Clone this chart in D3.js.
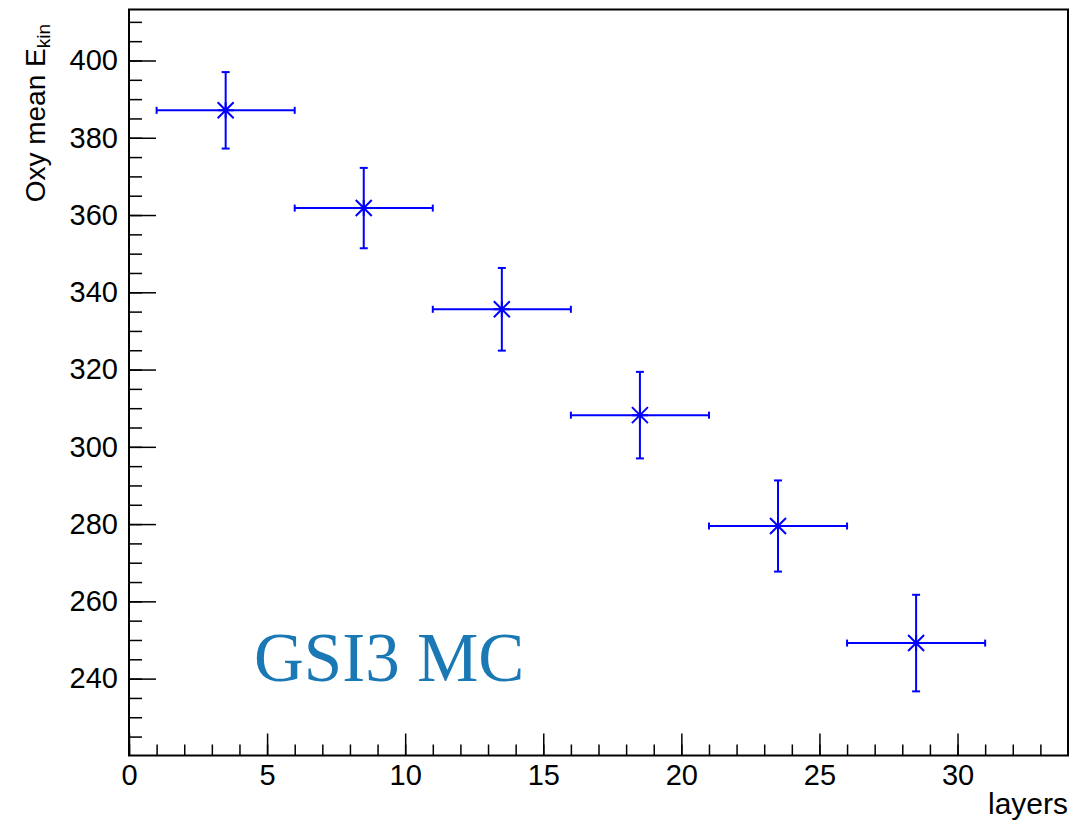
<!DOCTYPE html>
<html>
<head>
<meta charset="utf-8">
<script src="https://cdn.jsdelivr.net/npm/d3@7"></script>
<style>
  body { margin: 0; background: #fff; }
  svg text { font-family: "Liberation Sans", Arial, sans-serif; }
</style>
</head>
<body>
<svg id="canvas" width="1091" height="824"></svg>
<script>
// data
const layers = [3.5, 8.5, 13.5, 18.5, 23.5, 28.5];
const layerErr = [2.5, 2.5, 2.5, 2.5, 2.5, 2.5];
const meanEkin = [387.1, 361.8, 335.6, 308.2, 279.5, 249.2];
const ekinErr = [9.9, 10.4, 10.7, 11.2, 11.8, 12.5];
const xMajorTicks = [0, 5, 10, 15, 20, 25, 30];
const yMajorTicks = [240, 260, 280, 300, 320, 340, 360, 380, 400];

const points = layers.map((x, i) => ({
    x: x,
    ex: layerErr[i],
    y: meanEkin[i],
    ey: ekinErr[i]
}));

const canvas = d3.select("#canvas");

const frameLeft = 129, frameRight = 1068, frameTop = 9.5, frameBottom = 755.5;

const xScale = d3.scaleLinear().domain([0, 34]).range([frameLeft, frameRight]);
const yScale = d3.scaleLinear().domain([220.1, 413.2]).range([frameBottom, frameTop]);

const blue = "#0000ff";

// frame
canvas.append("rect")
    .attr("x", frameLeft)
    .attr("y", frameTop)
    .attr("width", frameRight - frameLeft)
    .attr("height", frameBottom - frameTop)
    .attr("fill", "none")
    .attr("stroke", "#000")
    .attr("stroke-width", 2);

// minor ticks
canvas.append("g")
    .attr("transform", `translate(0, ${frameBottom})`)
    .call(d3.axisBottom(xScale).tickValues(d3.range(0, 34, 1)).tickSize(-11).tickFormat(""))
    .call((g) => g.select(".domain").remove());
canvas.append("g")
    .attr("transform", `translate(${frameLeft}, 0)`)
    .call(d3.axisLeft(yScale).tickValues(d3.range(225, 414, 5)).tickSize(-13).tickFormat(""))
    .call((g) => g.select(".domain").remove());

// major ticks with labels
const xAxis = canvas.append("g")
    .attr("transform", `translate(0, ${frameBottom})`)
    .call(d3.axisBottom(xScale).tickValues(xMajorTicks).tickSize(-22).tickPadding(8));
xAxis.select(".domain").remove();
xAxis.selectAll("text")
    .attr("fill", "#000")
    .style("font-size", "29px")
    .attr("dy", "0.71em")
    .attr("y", 9);

const yAxis = canvas.append("g")
    .attr("transform", `translate(${frameLeft}, 0)`)
    .call(d3.axisLeft(yScale).tickValues(yMajorTicks).tickSize(-27).tickPadding(11));
yAxis.select(".domain").remove();
yAxis.selectAll("text")
    .attr("fill", "#000")
    .style("font-size", "29px");

canvas.selectAll(".tick line").attr("stroke", "#000").attr("stroke-width", 1.5);

// axis titles
canvas.append("text")
    .attr("x", frameRight)
    .attr("y", 814)
    .attr("text-anchor", "end")
    .style("font-size", "30px")
    .text("layers");

const yTitle = canvas.append("text")
    .attr("transform", "translate(45, 24) rotate(-90)")
    .attr("text-anchor", "end")
    .style("font-size", "28px");
yTitle.append("tspan").text("Oxy mean E");
yTitle.append("tspan")
    .attr("dy", 5)
    .style("font-size", "19px")
    .text("kin");

// error bars and markers
const pts = canvas.selectAll("g.pt")
    .data(points)
    .enter()
    .append("g")
    .attr("class", "pt")
    .attr("stroke", blue)
    .attr("stroke-width", 2)
    .attr("fill", "none");

pts.append("line")
    .attr("x1", (d) => xScale(d.x - d.ex))
    .attr("x2", (d) => xScale(d.x + d.ex))
    .attr("y1", (d) => yScale(d.y))
    .attr("y2", (d) => yScale(d.y));
pts.append("line")
    .attr("x1", (d) => xScale(d.x))
    .attr("x2", (d) => xScale(d.x))
    .attr("y1", (d) => yScale(d.y - d.ey))
    .attr("y2", (d) => yScale(d.y + d.ey));

// end caps
[-1, 1].forEach((s) => {
    pts.append("line")
        .attr("x1", (d) => xScale(d.x + s * d.ex))
        .attr("x2", (d) => xScale(d.x + s * d.ex))
        .attr("y1", (d) => yScale(d.y) - 3.5)
        .attr("y2", (d) => yScale(d.y) + 3.5);
    pts.append("line")
        .attr("x1", (d) => xScale(d.x) - 4)
        .attr("x2", (d) => xScale(d.x) + 4)
        .attr("y1", (d) => yScale(d.y + s * d.ey))
        .attr("y2", (d) => yScale(d.y + s * d.ey));
});

// star marker
pts.append("path")
    .attr("d", (d) => {
        const cx = xScale(d.x), cy = yScale(d.y), r = 8;
        return `M${cx - r},${cy - r}L${cx + r},${cy + r}M${cx - r},${cy + r}L${cx + r},${cy - r}` +
            `M${cx},${cy - r}L${cx},${cy + r}M${cx - r},${cy}L${cx + r},${cy}`;
    });

// label
canvas.append("text")
    .attr("x", 254)
    .attr("y", 681)
    .style("font-family", "'Liberation Serif', 'Times New Roman', serif")
    .style("font-size", "69px")
    .attr("fill", "#1a78b4")
    .text("GSI3 MC");
</script>
</body>
</html>
